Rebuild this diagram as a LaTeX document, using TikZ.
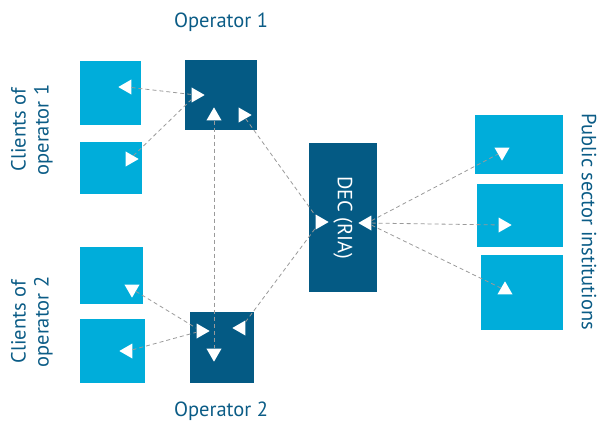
\documentclass[tikz,border=0pt]{standalone}
\usepackage{fontspec}
\setmainfont{PT Sans}
\usetikzlibrary{shapes.geometric}
\definecolor{lightblue}{HTML}{00ADDA}
\definecolor{darkblue}{HTML}{045A84}
\definecolor{textblue}{HTML}{0B5C86}
\definecolor{linegray}{HTML}{9A9A9A}

\begin{document}
\begin{tikzpicture}[
  x=1pt, y=-1pt,
  client/.style={fill=lightblue, inner sep=0pt},
  operator/.style={fill=darkblue, inner sep=0pt},
  arrowmark/.style={isosceles triangle, isosceles triangle apex angle=60,
    fill=white, inner sep=0pt, minimum height=13pt, minimum width=13pt},
  link/.style={draw=linegray, line width=0.8pt, dash pattern=on 4pt off 3pt},
  label/.style={text=textblue, font=\fontsize{20.5}{23}\selectfont, align=center}
]
  \useasboundingbox (0,0) rectangle (598,424);

  % boxes
  \node [client, minimum width=61pt, minimum height=64pt] (c1a) at (110.5,93) {};
  \node [client, minimum width=62pt, minimum height=52pt] (c1b) at (111,168) {};
  \node [operator, minimum width=72pt, minimum height=70pt] (op1) at (221,95) {};
  \node [client, minimum width=63pt, minimum height=57pt] (c2a) at (111.5,275.5) {};
  \node [client, minimum width=65pt, minimum height=64pt] (c2b) at (112.5,351) {};
  \node [operator, minimum width=64pt, minimum height=71pt] (op2) at (222,347.5) {};
  \node [operator, minimum width=68pt, minimum height=149pt] (dec) at (343,217.5) {};
  \node [client, minimum width=88pt, minimum height=59pt] (pub1) at (519,144.5) {};
  \node [client, minimum width=86pt, minimum height=63pt] (pub2) at (520,215.5) {};
  \node [client, minimum width=82pt, minimum height=75pt] (pub3) at (522,292.5) {};

  % markers
  \node [arrowmark, shape border rotate=180] (m1) at (127,87) {};
  \node [arrowmark, shape border rotate=-20] (m3) at (130,159) {};
  \node [arrowmark] (m2) at (196,95) {};
  \node [arrowmark, shape border rotate=90] (m4) at (214,116) {};
  \node [arrowmark, shape border rotate=-20] (m5) at (243,115) {};
  \node [arrowmark] (m6) at (320,222) {};
  \node [arrowmark, shape border rotate=180] (m7) at (367,223) {};
  \node [arrowmark, shape border rotate=-90] (m8) at (502,152) {};
  \node [arrowmark] (m9) at (503,225) {};
  \node [arrowmark, shape border rotate=90] (m10) at (505,290) {};
  \node [arrowmark, shape border rotate=-90] (m11) at (132,289) {};
  \node [arrowmark, shape border rotate=160] (m12) at (128,351) {};
  \node [arrowmark, shape border rotate=-10] (m13) at (201,331) {};
  \node [arrowmark, shape border rotate=200] (m14) at (241,328) {};
  \node [arrowmark, shape border rotate=-90] (m15) at (214,353) {};

  % links
  \draw [link] (m1) -- (m2);
  \draw [link] (m3) -- (m2);
  \draw [link] (m4) -- (m15);
  \draw [link] (m5) -- (m6);
  \draw [link] (m14) -- (m6);
  \draw [link] (m11) -- (m13);
  \draw [link] (m12) -- (m13);
  \draw [link] (m7) -- (m8);
  \draw [link] (m7) -- (m9);
  \draw [link] (m7) -- (m10);

  % texts
  \node [label] (op1 label) at (221,22) {Operator 1};
  \node [label] (op2 label) at (221,411) {Operator 2};
  \node [label, rotate=90] (c1 label) at (32,130) {Clients of\\operator 1};
  \node [label, rotate=90] (c2 label) at (32,322) {Clients of\\operator 2};
  \node [label, rotate=-90] (pub label) at (589,222) {Public sector institutions};
  \node [label, text=white, rotate=-90] (dec label) at (343,218) {DEC (RIA)};
\end{tikzpicture}
\end{document}
